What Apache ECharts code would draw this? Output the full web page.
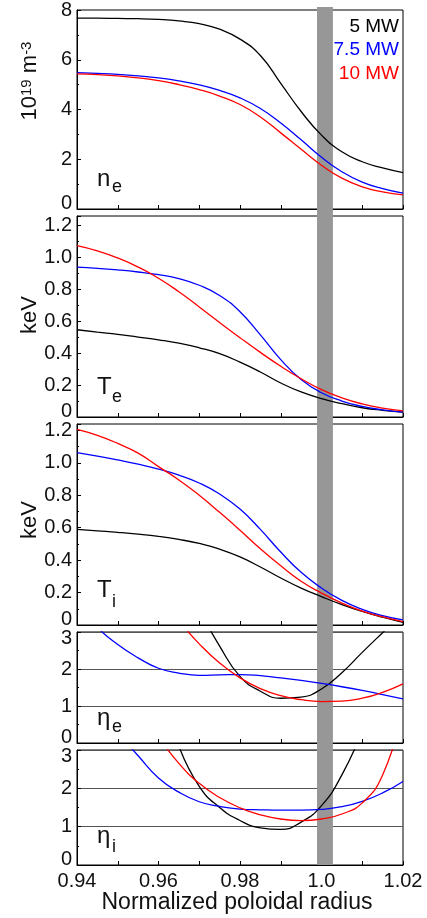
<!DOCTYPE html>
<html>
<head>
<meta charset="utf-8">
<script src="https://cdn.jsdelivr.net/npm/echarts@6/dist/echarts.min.js"></script>
<style>
  html, body { margin: 0; padding: 0; background: #fff; }
  #chart { width: 427px; height: 918px; }
</style>
</head>
<body>
<div id="chart"></div>
<script>
// normalized poloidal radius, shared by every panel
const xs = [0.94, 0.945, 0.95, 0.955, 0.96, 0.965, 0.97, 0.975, 0.98, 0.985, 0.99, 0.995, 1.0, 1.005, 1.01, 1.015, 1.02]

// n_e (10^19 m^-3)
const ne5 = [7.67, 7.67, 7.66, 7.65, 7.62, 7.56, 7.45, 7.23, 6.83, 6.17, 5.05, 3.92, 2.97, 2.3, 1.9, 1.65, 1.46]
const ne75 = [5.48, 5.45, 5.41, 5.35, 5.27, 5.15, 4.99, 4.77, 4.47, 4.04, 3.46, 2.78, 2.08, 1.50, 1.08, 0.82, 0.64]
const ne10 = [5.43, 5.40, 5.35, 5.27, 5.16, 5.00, 4.80, 4.54, 4.20, 3.70, 3.06, 2.40, 1.76, 1.24, 0.89, 0.69, 0.57]

// T_e (keV)
const te5 = [0.547, 0.532, 0.518, 0.501, 0.484, 0.463, 0.434, 0.397, 0.344, 0.282, 0.213, 0.157, 0.115, 0.084, 0.058, 0.042, 0.031]
const te75 = [0.939, 0.932, 0.922, 0.909, 0.892, 0.868, 0.826, 0.762, 0.66, 0.515, 0.36, 0.235, 0.152, 0.100, 0.066, 0.045, 0.030]
const te10 = [1.075, 1.042, 0.997, 0.940, 0.870, 0.785, 0.690, 0.592, 0.497, 0.405, 0.318, 0.240, 0.172, 0.120, 0.082, 0.056, 0.038]

// T_i (keV)
const ti5 = [0.59, 0.581, 0.572, 0.561, 0.547, 0.528, 0.503, 0.468, 0.42, 0.358, 0.29, 0.228, 0.175, 0.126, 0.084, 0.048, 0.016]
const ti75 = [1.063, 1.042, 1.018, 0.992, 0.962, 0.925, 0.876, 0.808, 0.715, 0.59, 0.45, 0.325, 0.228, 0.152, 0.097, 0.058, 0.031]
const ti10 = [1.207, 1.17, 1.12, 1.06, 0.977, 0.895, 0.80, 0.695, 0.585, 0.47, 0.365, 0.27, 0.197, 0.135, 0.085, 0.05, 0.021]

// eta_e (null = not drawn)
const ee5 = [null, null, null, null, null, null, 3.6, 2.62, 1.80, 1.40, 1.21, 1.24, 1.46, 1.90, 2.45, 2.98, 3.5]
const ee75 = [3.75, 3.12, 2.66, 2.30, 2.02, 1.89, 1.83, 1.84, 1.85, 1.82, 1.76, 1.69, 1.61, 1.52, 1.42, 1.31, 1.19]
const ee10 = [null, null, null, null, 4.0, 3.3, 2.68, 2.16, 1.76, 1.47, 1.28, 1.17, 1.12, 1.13, 1.21, 1.37, 1.6]

// eta_i
const ei5 = [null, null, null, null, null, 3.1, 2.05, 1.5, 1.16, 0.97, 0.93, 1.12, 1.55, 2.35, 3.5, null, null]
const ei75 = [null, null, 3.45, 2.85, 2.27, 1.9, 1.65, 1.53, 1.46, 1.44, 1.43, 1.43, 1.45, 1.52, 1.66, 1.88, 2.18]
const ei10 = [null, null, null, null, 3.35, 2.65, 2.13, 1.76, 1.49, 1.31, 1.2, 1.16, 1.2, 1.33, 1.62, 2.35, 4.0]

// separatrix band
const bandRange = [0.9989, 1.0028]

const powers = ['5 MW', '7.5 MW', '10 MW']
const colors = ['#000000', '#0000ff', '#ff0000']

const FONT = 'Liberation Sans, Arial, sans-serif'
const chart = echarts.init(document.getElementById('chart'))

// panel boxes
const boxes = [
  { top: 7, height: 202 },
  { top: 216, height: 201 },
  { top: 424, height: 201 },
  { top: 632, height: 111 },
  { top: 750, height: 115 }
]

const grids = boxes.map(b => ({
  left: 77, right: 24, top: b.top, height: b.height,
  show: true, borderColor: '#000', borderWidth: 1, backgroundColor: 'transparent'
}))
// full height grid for the gray band
grids.push({ left: 77, right: 24, top: 7, height: 858 })

const labelRich = {
  lo: { fontSize: 20, fontFamily: FONT, color: '#111', padding: [0, 0, 11, 0] },
  hi: { fontSize: 20, fontFamily: FONT, color: '#111', padding: [12, 0, 0, 0] }
}

const xAxes = boxes.map((b, i) => ({
  type: 'value', gridIndex: i, min: 0.94, max: 1.02, interval: 0.01,
  axisLine: { show: true, lineStyle: { color: '#000', width: 1 } },
  axisTick: { inside: true, length: 4, lineStyle: { color: '#000' } },
  splitLine: { show: false },
  axisLabel: {
    show: i === 4, margin: 6, fontSize: 20, fontFamily: FONT, color: '#111',
    formatter: v => {
      const k = Math.round(v * 100)
      if (k % 2) return ''
      return k === 100 ? '1.0' : v.toFixed(2)
    }
  }
}))
xAxes.push({ type: 'value', gridIndex: 5, min: 0.94, max: 1.02, show: false })

function yAxis(i, min, max, step, fmt, grid) {
  return {
    type: 'value', gridIndex: i, min: min, max: max, interval: step,
    axisLine: { show: true, lineStyle: { color: '#000', width: 1 } },
    axisTick: { show: true, inside: true, length: 4, lineStyle: { color: '#000' } },
    minorTick: { show: true, splitNumber: 2, length: 2, lineStyle: { color: '#000' } },
    splitLine: { show: !!grid, lineStyle: { color: '#555', width: 1 } },
    axisLabel: {
      margin: 5, fontSize: 20, fontFamily: FONT, color: '#111',
      showMaxLabel: Math.abs(max / step - Math.round(max / step)) < 1e-9,
      formatter: fmt, rich: labelRich
    }
  }
}

const yAxes = [
  yAxis(0, 0, 8, 2, v => v === 0 ? '{lo|0}' : String(v)),
  yAxis(1, 0, 1.26, 0.2, v => v === 0 ? '{lo|0}' : v.toFixed(1)),
  yAxis(2, 0, 1.24, 0.2, v => v === 0 ? '{lo|0}' : v.toFixed(1)),
  yAxis(3, 0, 3, 1, v => v === 0 ? '{lo|0}' : (v === 3 ? '{hi|3}' : String(v)), true),
  yAxis(4, 0, 3, 1, v => v === 0 ? '{lo|0}' : (v === 3 ? '{hi|3}' : String(v)), true),
  { type: 'value', gridIndex: 5, min: 0, max: 1, show: false }
]

function pts(vals) {
  const out = []
  vals.forEach((v, i) => { if (v != null) out.push([xs[i], v]) })
  return out
}

const panels = [
  [ne5, ne75, ne10],
  [te5, te75, te10],
  [ti5, ti75, ti10],
  [ee5, ee75, ee10],
  [ei5, ei75, ei10]
]

const series = []
panels.forEach((set, p) => {
  set.forEach((vals, k) => {
    series.push({
      type: 'line', name: powers[k] + ' ' + p,
      xAxisIndex: p, yAxisIndex: p,
      data: pts(vals), smooth: 0.5,
      showSymbol: false, symbol: 'none',
      lineStyle: { color: colors[k], width: 1.3 },
      z: 3, silent: true
    })
  })
})
// gray band across all panels
series.push({
  type: 'line', xAxisIndex: 5, yAxisIndex: 5, data: [], z: 1, silent: true,
  markArea: {
    silent: true,
    itemStyle: { color: '#979797', opacity: 1 },
    data: [[{ xAxis: bandRange[0] }, { xAxis: bandRange[1] }]]
  }
})

const txt = (x, y, text, size, extra) => Object.assign({
  type: 'text', x: x, y: y, z: 10,
  style: Object.assign({ text: text, fontSize: size, fontFamily: FONT, fill: '#111', align: 'left', verticalAlign: 'middle' }, extra || {})
})

const graphics = [
  // legend
  txt(399, 27, powers[0], 19, { align: 'right', fill: colors[0] }),
  txt(399, 50, powers[1], 19, { align: 'right', fill: colors[1] }),
  txt(399, 74, powers[2], 19, { align: 'right', fill: colors[2] }),
  // panel names
  txt(97, 179, 'n', 24), txt(112, 187, 'e', 18),
  txt(97, 387, 'T', 24), txt(112, 397, 'e', 18),
  txt(97, 590, 'T', 24), txt(112, 602, 'i', 18),
  txt(97, 718, 'η', 24), txt(112, 727, 'e', 18),
  txt(97, 836, 'η', 24), txt(112, 847, 'i', 18),
  // axis names
  {
    type: 'text', x: 30, y: 81, rotation: Math.PI / 2, z: 10,
    style: {
      text: '{b|10}{s|19}{b| m}{s|-3}', align: 'center', verticalAlign: 'middle',
      rich: {
        b: { fontSize: 22, fontFamily: FONT, fill: '#111', color: '#111' },
        s: { fontSize: 15, fontFamily: FONT, fill: '#111', color: '#111', verticalAlign: 'top' }
      }
    }
  },
  Object.assign(txt(30, 315, 'keV', 22, { align: 'center' }), { rotation: Math.PI / 2 }),
  Object.assign(txt(30, 520, 'keV', 22, { align: 'center' }), { rotation: Math.PI / 2 }),
  txt(237, 903, 'Normalized poloidal radius', 23, { align: 'center' })
]

chart.setOption({
  animation: false,
  backgroundColor: '#fff',
  grid: grids,
  xAxis: xAxes,
  yAxis: yAxes,
  series: series,
  graphic: graphics
})
</script>
</body>
</html>
